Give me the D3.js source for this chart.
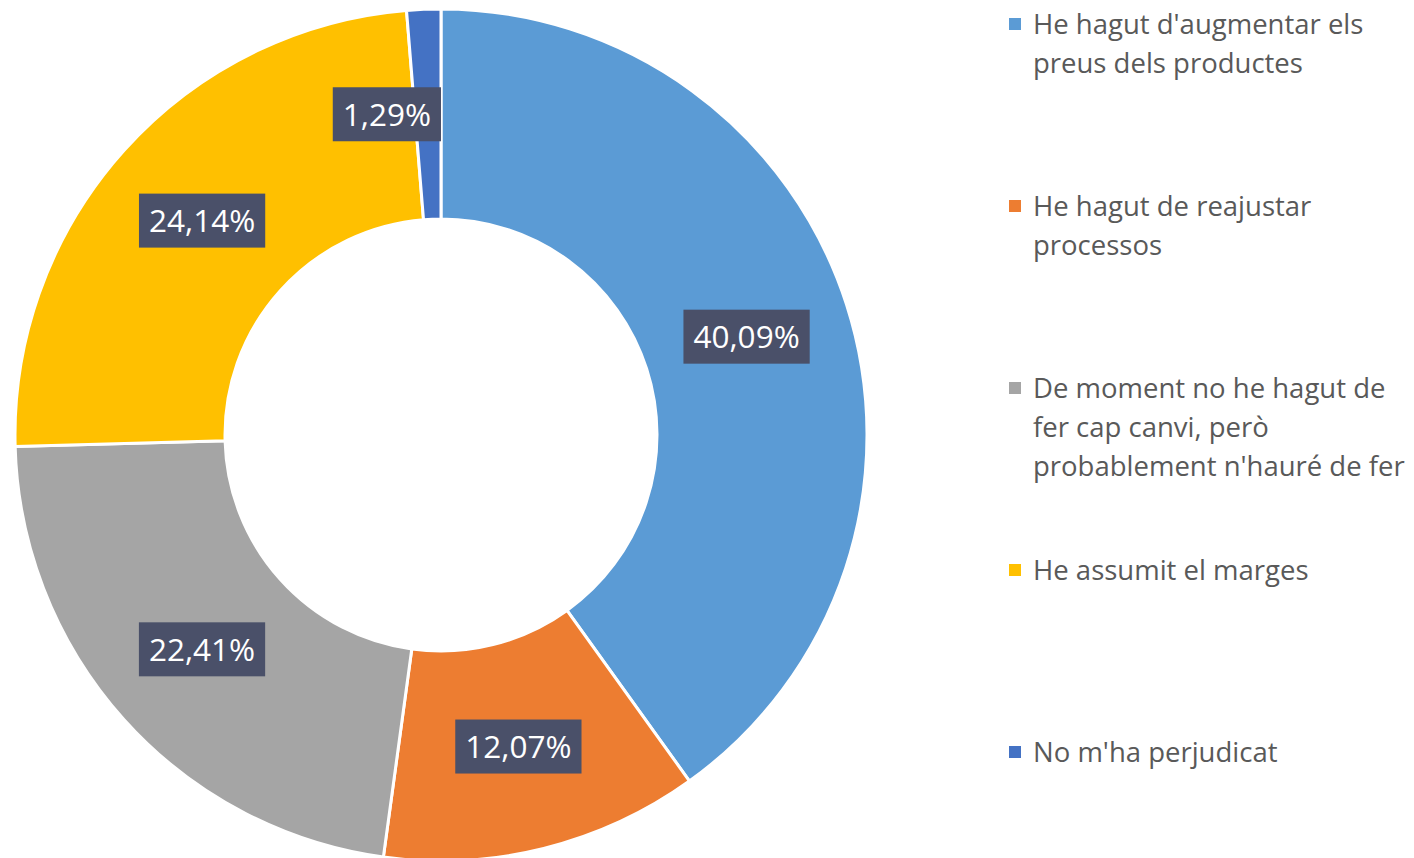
<!DOCTYPE html>
<html>
<head>
<meta charset="utf-8">
<script src="https://cdn.jsdelivr.net/npm/d3@7"></script>
<style>
  body { margin: 0; background: #fff; }
  text { font-family: "Open Sans", sans-serif; }
</style>
</head>
<body>
<div id="chart"></div>
<script>
const categories = [
    ["He hagut d'augmentar els", "preus dels productes"],
    ["He hagut de reajustar", "processos"],
    ["De moment no he hagut de", "fer cap canvi, però", "probablement n'hauré de fer"],
    ["He assumit el marges"],
    ["No m'ha perjudicat"]
];
const values = [40.09, 12.07, 22.41, 24.14, 1.29];
const labels = ["40,09%", "12,07%", "22,41%", "24,14%", "1,29%"];
const colors = ["#5B9BD5", "#ED7D31", "#A5A5A5", "#FFC000", "#4472C4"];

const width = 1414, height = 858;
const cx = 441, cy = 435;
const outerR = 426, innerR = 216;

const svg = d3.select("#chart").append("svg")
    .attr("width", width)
    .attr("height", height);

const pie = d3.pie().sort(null).value(d => d);
const arc = d3.arc().innerRadius(innerR).outerRadius(outerR);

const g = svg.append("g").attr("transform", `translate(${cx},${cy})`);

const arcs = pie(values);

g.selectAll("path")
    .data(arcs)
    .enter().append("path")
    .attr("d", arc)
    .attr("fill", (d, i) => colors[i])
    .attr("stroke", "#fff")
    .attr("stroke-width", 3);

// data labels in dark boxes
const lbl = g.selectAll("g.lbl")
    .data(arcs)
    .enter().append("g")
    .attr("class", "lbl");

lbl.append("text")
    .attr("text-anchor", "middle")
    .attr("dy", "0.36em")
    .attr("fill", "#fff")
    .attr("font-size", 31.5)
    .text((d, i) => labels[i]);

lbl.each(function(d) {
    const sel = d3.select(this);
    const bb = sel.select("text").node().getBBox();
    const w = bb.width + 20;
    sel.insert("rect", "text")
        .attr("x", -w / 2)
        .attr("y", -27)
        .attr("width", w)
        .attr("height", 54)
        .attr("fill", "#4A5069");
    let [x, y] = arc.centroid(d);
    // keep a box that would cross the top seam on its own side
    if (Math.abs(x) < w / 2 && y < 0) x = x < 0 ? -w / 2 : w / 2;
    sel.attr("transform", `translate(${x},${y})`);
});

// legend
const legend = svg.append("g").attr("transform", "translate(1009,0)");
const item = legend.selectAll("g")
    .data(categories)
    .enter().append("g")
    .attr("transform", (d, i) => `translate(0,${24 + i * 182})`);

item.append("rect")
    .attr("x", 0)
    .attr("y", -6)
    .attr("width", 12)
    .attr("height", 12)
    .attr("fill", (d, i) => colors[i]);

item.append("text")
    .attr("fill", "#595959")
    .attr("font-size", 27.5)
    .selectAll("tspan")
    .data(d => d)
    .enter().append("tspan")
    .attr("x", 24)
    .attr("y", (d, i) => i * 39)
    .attr("dy", "0.35em")
    .text(d => d);
</script>
</body>
</html>
